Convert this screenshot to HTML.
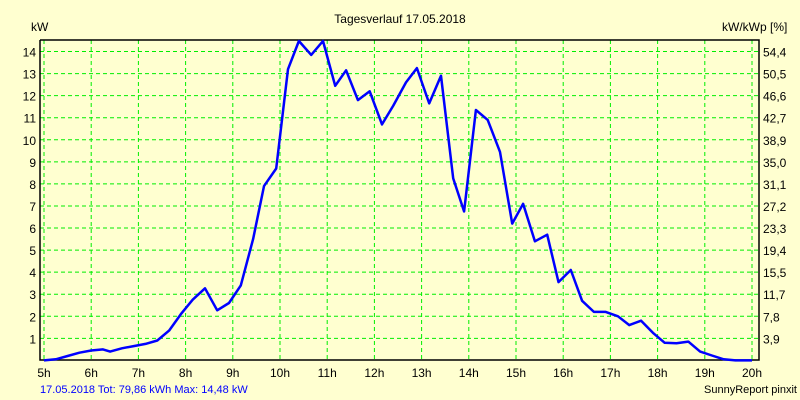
<!DOCTYPE html>
<html><head><meta charset="utf-8"><style>
body{margin:0;background:#ffffd0;}
svg{display:block;font-family:"Liberation Sans",sans-serif;}
</style></head><body>
<svg id="c" width="800" height="400">
<rect width="800" height="400" fill="#ffffd0"/>
<text x="400" y="23" font-size="12" text-anchor="middle">Tagesverlauf 17.05.2018</text>
<text x="31" y="31" font-size="12">kW</text>
<text x="722" y="31" font-size="12">kW/kWp [%]</text>
<g id="grid"></g>
<g id="labels"></g>
<polyline id="frame" points="40,40 40,360 759,360 759,40 40,40" fill="none" stroke="#000" stroke-width="1.5"/>
<polyline id="line" fill="none" stroke="#0000ff" stroke-width="2.5" stroke-linejoin="round"/>
<text x="40" y="393" font-size="11" fill="#0000ff">17.05.2018 Tot: 79,86 kWh Max: 14,48 kW</text>
<text x="797" y="393" font-size="11" text-anchor="end">SunnyReport pinxit</text>
</svg>
<script>
const hours=[5,6,7,8,9,10,11,12,13,14,15,16,17,18,19,20];
const yTicks=[1,2,3,4,5,6,7,8,9,10,11,12,13,14];
const rightTicks=["3,9","7,8","11,7","15,5","19,4","23,3","27,2","31,1","35,0","38,9","42,7","46,6","50,5","54,4"];
const times=[5.0,5.25,5.5,5.75,6.0,6.25,6.4,6.65,6.9,7.15,7.4,7.65,7.9,8.15,8.41,8.67,8.92,9.17,9.43,9.66,9.92,10.17,10.4,10.66,10.91,11.17,11.4,11.65,11.9,12.16,12.4,12.67,12.9,13.16,13.41,13.67,13.9,14.15,14.4,14.66,14.92,15.15,15.4,15.66,15.9,16.16,16.4,16.65,16.9,17.16,17.4,17.65,17.9,18.15,18.4,18.65,18.9,19.15,19.4,19.65,20.0];
const power=[0,0.05,0.2,0.35,0.45,0.5,0.4,0.55,0.65,0.75,0.9,1.35,2.1,2.75,3.27,2.27,2.6,3.4,5.5,7.9,8.7,13.2,14.48,13.85,14.48,12.45,13.15,11.8,12.2,10.7,11.55,12.6,13.25,11.65,12.9,8.25,6.75,11.35,10.9,9.45,6.2,7.1,5.4,5.7,3.55,4.1,2.7,2.2,2.2,2.0,1.6,1.8,1.25,0.8,0.78,0.85,0.4,0.22,0.05,0,0];
const X=h=>44+(h-5)*47.2;
const Y=v=>360.4-v*22.06;
const NS="http://www.w3.org/2000/svg";
const grid=document.getElementById('grid'),lab=document.getElementById('labels');
function mk(t,a,p){const e=document.createElementNS(NS,t);for(const k in a)e.setAttribute(k,a[k]);p.appendChild(e);return e;}
hours.forEach(h=>{
 const l=mk('line',{x1:X(h),x2:X(h),y1:40,y2:360,stroke:'#00ee00','stroke-dasharray':'4,3'},grid);
 
 
 const t=mk('text',{x:X(h),y:377,'font-size':12,'text-anchor':'middle'},lab);t.textContent=h+'h';
 
 
});
yTicks.forEach((v,i)=>{
 const l=mk('line',{x1:40,x2:759,y1:Y(v),y2:Y(v),stroke:'#00ee00','stroke-dasharray':'4,3'},grid);
 
 
 const t=mk('text',{x:36,y:Y(v)+5,'font-size':12,'text-anchor':'end'},lab);t.textContent=v;
 
 
 const r=mk('text',{x:763,y:Y(v)+5,'font-size':12},lab);r.textContent=rightTicks[i];
 
 
});
document.getElementById('line').setAttribute('points',times.map((t,i)=>X(t).toFixed(1)+','+Y(power[i]).toFixed(1)).join(' '));
</script>
</body></html>
